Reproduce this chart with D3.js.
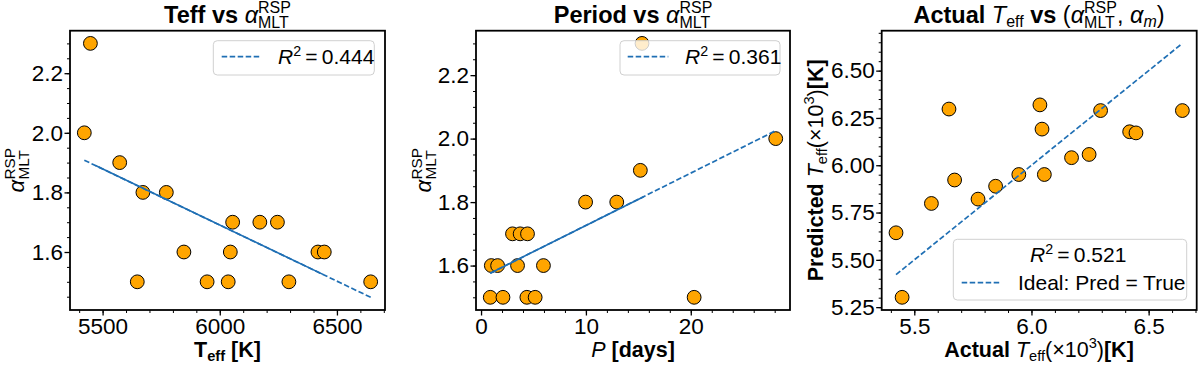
<!DOCTYPE html>
<html><head><meta charset="utf-8">
<script src="https://cdn.jsdelivr.net/npm/d3@7/dist/d3.min.js"></script>
<style>
html,body{margin:0;padding:0;background:#fff;}
svg{display:block;}
text{font-family:"Liberation Sans",Arial,Helvetica,sans-serif;fill:#000;}
</style></head>
<body><svg id="chart" width="1200" height="365"></svg>
<script>
// ---------- DATA ----------
const teff = [5422, 5448, 5573, 5648, 5672, 5772, 5847, 5946, 6036, 6045, 6055, 6171, 6246, 6295, 6419, 6446, 6644];
const alphaMLT = [2.0, 2.3, 1.9, 1.5, 1.8, 1.8, 1.6, 1.5, 1.5, 1.6, 1.7, 1.7, 1.7, 1.5, 1.6, 1.6, 1.5];
const predTeff = [5.643, 5.302, 5.798, 6.297, 5.922, 5.821, 5.889, 5.951, 6.319, 6.191, 5.951, 6.040, 6.057, 6.289, 6.177, 6.171, 6.289];

const period = [0.88, 0.98, 1.58, 2.09, 3.0, 3.73, 3.48, 4.43, 4.37, 5.16, 5.95, 9.97, 12.94, 15.19, 15.35, 20.32, 28.1];
const periodAlpha = [1.5, 1.6, 1.6, 1.5, 1.7, 1.7, 1.6, 1.7, 1.5, 1.5, 1.6, 1.8, 1.8, 1.9, 2.3, 1.5, 2.0];

const fit1X = [5422, 6644], fit1Y = [1.908, 1.448];
const fit1SolidX = [5470, 6440], fit1SolidY = [1.890, 1.525];
const fit2X = [0.88, 28.1], fit2Y = [1.576, 2.025];
const fit2SolidX = [0.88, 15.5], fit2SolidY = [1.576, 1.817];
const idealX = [5.422, 6.644], idealY = [5.422, 6.644];

const r2Labels = ["0.444", "0.361", "0.521"];
const ticks1X = [5500, 6000, 6500], ticks1Y = [1.6, 1.8, 2.0, 2.2];
const ticks2X = [0, 10, 20], ticks2Y = [1.6, 1.8, 2.0, 2.2];
const ticks3X = [5.5, 6.0, 6.5], ticks3Y = [5.25, 5.50, 5.75, 6.00, 6.25, 6.50];

// ---------- SETUP ----------
const svg = d3.select("#chart");
const BLUE = "#1f6fb4", ORANGE = "#ffa500";
const TOP = 30.7, BOTTOM = 310;
const FS = 22.5;

function padDomain(vals) {
  const [a, b] = d3.extent(vals); const m = (b - a) * 0.05; return [a - m, b + m];
}

function rich(parent, pieces, cx, baseline, size, rotate) {
  const outer = parent.append("g");
  const g = outer.append("g");
  let x = 0;
  pieces.forEach(p => {
    const st = (sel, q, fs) => sel.style("font-size", fs + "px")
      .style("font-weight", q.b ? "bold" : "normal")
      .style("font-style", q.i ? "italic" : "normal");
    if (p.sup !== undefined || p.sub !== undefined) {
      const fs = size * 0.68; let w = 0;
      if (p.sup !== undefined) {
        const t = st(g.append("text").attr("x", x).attr("y", -size * 0.4), p, fs).text(p.sup);
        w = Math.max(w, t.node().getComputedTextLength());
      }
      if (p.sub !== undefined) {
        const t = st(g.append("text").attr("x", x).attr("y", size * (p.sup !== undefined ? 0.22 : 0.2)), p, fs).text(p.sub);
        w = Math.max(w, t.node().getComputedTextLength());
      }
      x += w + (p.after || 0);
    } else {
      const t = st(g.append("text").attr("x", x).attr("y", 0), p, size).style("white-space", "pre").text(p.t);
      x += t.node().getComputedTextLength();
    }
  });
  g.attr("transform", `translate(${-x / 2},0)`);
  outer.attr("transform", rotate ? `translate(${cx},${baseline}) rotate(-90)` : `translate(${cx},${baseline})`);
  return outer;
}

function minorTicks(domain, step) {
  const out = []; const s = Math.ceil(domain[0] / step - 1e-9);
  for (let k = s; k * step <= domain[1] + 1e-9; k++) out.push(+(k * step).toFixed(6));
  return out;
}

function panel(opt) {
  const g = svg.append("g");
  const x = d3.scaleLinear().domain(opt.xd).range([opt.left, opt.right]);
  const y = d3.scaleLinear().domain(opt.yd).range([BOTTOM, TOP]);
  const font = s => s.selectAll("text").style("font-size", FS + "px").attr("fill", "#000")
    .style("font-family", '"Liberation Sans",Arial,sans-serif');

  g.append("g").attr("transform", `translate(0,${BOTTOM})`)
    .call(d3.axisBottom(x).tickValues(minorTicks(opt.xd, opt.xminor)).tickSize(3).tickSizeOuter(0).tickFormat(""))
    .call(s => { s.select(".domain").remove(); s.selectAll("line").attr("stroke", "#000").attr("stroke-width", 1); });
  g.append("g").attr("transform", `translate(${opt.left},0)`)
    .call(d3.axisLeft(y).tickValues(minorTicks(opt.yd, opt.yminor)).tickSize(3).tickSizeOuter(0).tickFormat(""))
    .call(s => { s.select(".domain").remove(); s.selectAll("line").attr("stroke", "#000").attr("stroke-width", 1); });
  g.append("g").attr("transform", `translate(0,${BOTTOM})`)
    .call(d3.axisBottom(x).tickValues(opt.xt).tickSize(5.5).tickPadding(2.5).tickSizeOuter(0).tickFormat(d3.format(opt.xf)))
    .call(s => { s.select(".domain").remove(); s.selectAll("line").attr("stroke", "#000").attr("stroke-width", 1.3); font(s); });
  g.append("g").attr("transform", `translate(${opt.left},0)`)
    .call(d3.axisLeft(y).tickValues(opt.yt).tickSize(5.5).tickPadding(1.5).tickSizeOuter(0).tickFormat(d3.format(opt.yf)))
    .call(s => { s.select(".domain").remove(); s.selectAll("line").attr("stroke", "#000").attr("stroke-width", 1.3); font(s); });

  const plot = g.append("g");
  plot.selectAll("circle").data(opt.px.map((v, i) => [v, opt.py[i]])).join("circle")
    .attr("cx", d => x(d[0])).attr("cy", d => y(d[1])).attr("r", 6.9)
    .attr("fill", ORANGE).attr("stroke", "#000").attr("stroke-width", 1);
  const line = d3.line().x(d => x(d[0])).y(d => y(d[1]));
  if (opt.fitX) {
    plot.append("path").attr("d", line(opt.fitX.map((v, i) => [v, opt.fitY[i]])))
      .attr("stroke", BLUE).attr("stroke-width", 1.7).attr("fill", "none").attr("stroke-dasharray", "5.5,2.5");
  }
  if (opt.solidX) {
    plot.append("path").attr("d", line(opt.solidX.map((v, i) => [v, opt.solidY[i]])))
      .attr("stroke", BLUE).attr("stroke-width", 1.6).attr("fill", "none");
  }
  g.append("rect").attr("x", opt.left).attr("y", TOP).attr("width", opt.right - opt.left).attr("height", BOTTOM - TOP)
    .attr("fill", "none").attr("stroke", "#000").attr("stroke-width", 1.8);
  return { g, x, y };
}

const p1 = panel({
  left: 70, right: 385, xd: padDomain(teff), yd: padDomain(alphaMLT.concat(fit1Y)),
  xt: ticks1X, yt: ticks1Y, xf: "d", yf: ".1f", xminor: 100, yminor: 0.05,
  px: teff, py: alphaMLT, fitX: fit1X, fitY: fit1Y, solidX: fit1SolidX, solidY: fit1SolidY
});
const p2 = panel({
  left: 476, right: 790, xd: padDomain(period), yd: padDomain(periodAlpha.concat(fit2Y)),
  xt: ticks2X, yt: ticks2Y, xf: "d", yf: ".1f", xminor: 2, yminor: 0.05,
  px: period, py: periodAlpha, fitX: fit2X, fitY: fit2Y, solidX: fit2SolidX, solidY: fit2SolidY
});
const teffK = teff.map(v => v / 1000);
const p3 = panel({
  left: 881.7, right: 1196.7, xd: padDomain(teffK), yd: padDomain(predTeff.concat(idealY)),
  xt: ticks3X, yt: ticks3Y, xf: ".1f", yf: ".2f", xminor: 0.1, yminor: 0.05,
  px: teffK, py: predTeff, fitX: idealX, fitY: idealY
});

function legendBox(x0, y0, w, h) {
  svg.append("rect").attr("x", x0).attr("y", y0).attr("width", w).attr("height", h).attr("rx", 4)
    .attr("fill", "rgba(255,255,255,0.8)").attr("stroke", "#d0d0d0").attr("stroke-width", 1);
}
function dashSample(x0, x1, yy) {
  svg.append("line").attr("x1", x0).attr("x2", x1).attr("y1", yy).attr("y2", yy)
    .attr("stroke", BLUE).attr("stroke-width", 1.7).attr("stroke-dasharray", "5.5,2.5");
}
function r2Text(x0, base, val, size) {
  const g = svg.append("text").attr("x", x0).attr("y", base).style("font-size", size + "px");
  g.append("tspan").style("font-style", "italic").text("R");
  g.append("tspan").attr("dy", -8).style("font-size", (size * 0.68) + "px").text("2");
  g.append("tspan").attr("dy", 8).text("\u2009=\u2009" + val);
  return g;
}
legendBox(213.3, 40.7, 161, 34.3);
dashSample(221.7, 261.7, 56.7);
r2Text(278, 63.5, r2Labels[0], 21);

legendBox(620, 40.7, 160, 34.3);
dashSample(627.7, 668.3, 56.7);
r2Text(685, 63.5, r2Labels[1], 21);

legendBox(953.3, 239.3, 233.4, 60.7);
r2Text(1030, 262, r2Labels[2], 21);
dashSample(961.7, 1001.7, 282.7);
svg.append("text").attr("x", 1018).attr("y", 289.5).style("font-size", "21px").text("Ideal: Pred = True");

const TS = 23.5, LS = 21.5;
const alphaP = [{ t: "\u03b1", i: true }, { sup: "RSP", sub: "MLT" }];
rich(svg, [{ t: "Teff vs ", b: true }].concat(alphaP), 227.5, 22.7, TS);
rich(svg, [{ t: "Period vs ", b: true }].concat(alphaP), 633, 22.7, TS);
rich(svg, [{ t: "Actual ", b: true }, { t: "T", i: true }, { sub: "eff" }, { t: " vs ", b: true }, { t: "(" },
  { t: "\u03b1", i: true }, { sup: "RSP", sub: "MLT" }, { t: ", " }, { t: "\u03b1", i: true }, { sub: "m", i: true }, { t: ")" }],
  1039, 22.7, TS);

rich(svg, [{ t: "T", b: true }, { sub: "eff", b: true }, { t: " [K]", b: true }], 227.5, 357, LS);
rich(svg, [{ t: "P", i: true }, { t: " [days]", b: true }], 633, 357, LS);
rich(svg, [{ t: "Actual ", b: true }, { t: "T", i: true }, { sub: "eff" }, { t: "(\u00d710" }, { sup: "3" }, { t: ")" }, { t: "[K]", b: true }],
  1039, 357, LS);

rich(svg, alphaP, 24, 170.3, LS + 1, true);
rich(svg, alphaP, 431, 170.3, LS + 1, true);
rich(svg, [{ t: "Predicted ", b: true }, { t: "T", i: true }, { sub: "eff" }, { t: "(\u00d710" }, { sup: "3" }, { t: ")" }, { t: "[K]", b: true }],
  823, 170.3, LS, true);
</script></body></html>
